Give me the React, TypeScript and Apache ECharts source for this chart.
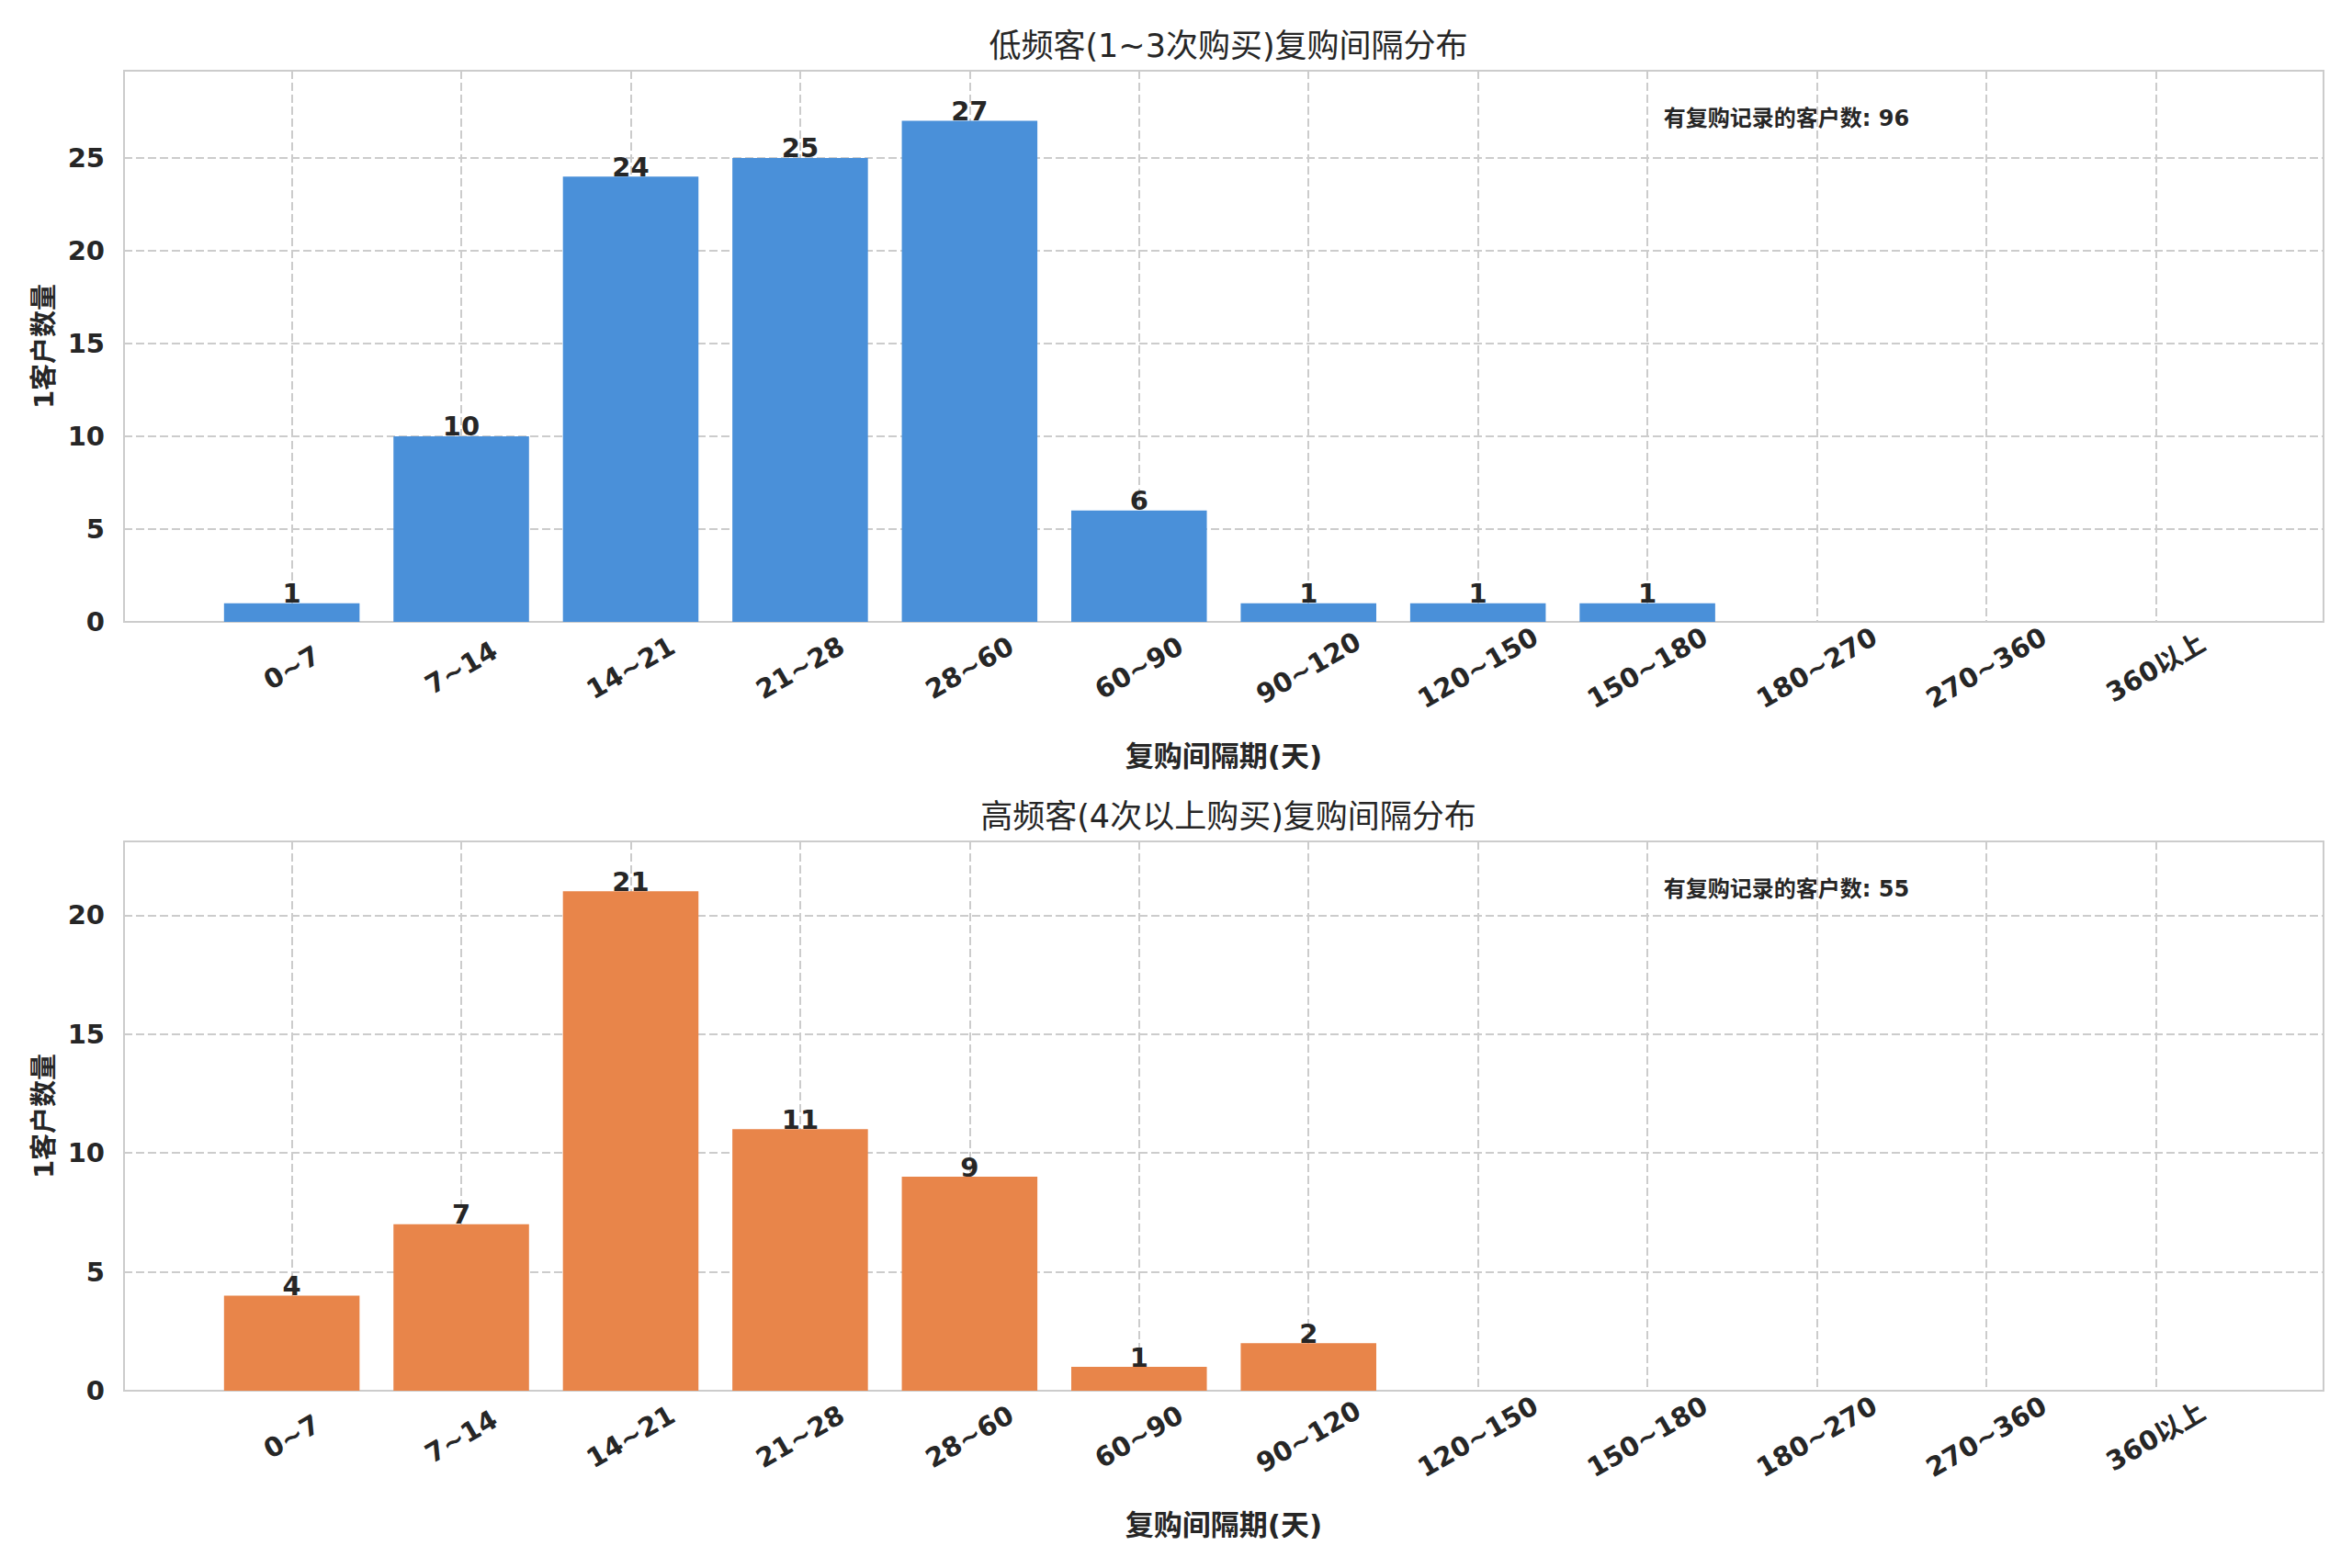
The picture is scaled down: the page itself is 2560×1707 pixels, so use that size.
import React, { useEffect, useRef } from "react";
import * as echarts from "echarts";

const categories = ["0~7", "7~14", "14~21", "21~28", "28~60", "60~90", "90~120", "120~150", "150~180", "180~270", "270~360", "360以上"];
const lowFreqCounts = [1, 10, 24, 25, 27, 6, 1, 1, 1, 0, 0, 0];
const highFreqCounts = [4, 7, 21, 11, 9, 1, 2, 0, 0, 0, 0, 0];
const panelTitles = ["低频客(1~3次购买)复购间隔分布", "高频客(4次以上购买)复购间隔分布"];
const xAxisTitle = "复购间隔期(天)";
const yAxisTitle = "1客户数量";
const totalLabel = "有复购记录的客户数";
const yMaxes = [29.7, 23.1];
const yInterval = 5;
const barColors = ["#4A90D9", "#E8854A"];

const FONT = "'DejaVu Sans', 'Noto Sans CJK SC', sans-serif";
const TEXT = "#262626";
const GRID = "#cccccc";

export default function App() {
  const ref = useRef<HTMLDivElement>(null);
  useEffect(() => {
    document.body.style.margin = "0";
    const chart = echarts.init(ref.current!, null, { renderer: "svg" });
    const frameLeft = 135;
    const frameWidth = 2394;
    const unit = frameWidth / 12.98;
    const barLeft = frameLeft + 0.99 * unit;
    const barWidthGrid = 11 * unit;
    const panels = [
      { top: 77, height: 600, data: lowFreqCounts },
      { top: 916, height: 598, data: highFreqCounts },
    ];
    const grids: any[] = [];
    const xAxes: any[] = [];
    const yAxes: any[] = [];
    const series: any[] = [];
    const titles: any[] = [];
    const graphics: any[] = [];
    panels.forEach((p, i) => {
      grids.push({
        left: frameLeft, top: p.top, width: frameWidth, height: p.height,
        show: true, borderColor: GRID, borderWidth: 2, backgroundColor: "transparent",
      });
      grids.push({ left: barLeft, top: p.top, width: barWidthGrid, height: p.height });
      xAxes.push({ gridIndex: 2 * i, type: "value", min: 0, max: 1, show: false });
      yAxes.push({
        gridIndex: 2 * i, type: "value", min: 0, max: yMaxes[i], interval: yInterval,
        axisLine: { show: false }, axisTick: { show: false },
        axisLabel: { fontSize: 29, fontWeight: "bold", color: TEXT, fontFamily: FONT, margin: 21, showMaxLabel: false },
        splitLine: { show: true, lineStyle: { color: GRID, width: 2, type: [9, 4] } },
        name: yAxisTitle, nameLocation: "middle", nameGap: 72,
        nameTextStyle: { fontSize: 29, fontWeight: "bold", color: TEXT, fontFamily: FONT },
      });
      xAxes.push({
        gridIndex: 2 * i + 1, type: "category", data: categories, boundaryGap: false,
        axisLine: { show: false }, axisTick: { show: false },
        axisLabel: {
          interval: 0, rotate: 30, align: "center", verticalAlign: "middle", margin: 50,
          fontSize: 29, fontWeight: "bold", color: TEXT, fontFamily: FONT,
        },
        splitLine: { show: true, interval: 0, lineStyle: { color: GRID, width: 2, type: [9, 4] } },
        name: xAxisTitle, nameLocation: "middle", nameGap: 130,
        nameTextStyle: { fontSize: 31, fontWeight: "bold", color: TEXT, fontFamily: FONT },
      });
      yAxes.push({ gridIndex: 2 * i + 1, type: "value", min: 0, max: yMaxes[i], show: false });
      series.push({
        type: "bar", xAxisIndex: 2 * i + 1, yAxisIndex: 2 * i + 1, data: p.data,
        barWidth: 0.8 * unit, clip: false,
        itemStyle: { color: barColors[i] },
        label: {
          show: true, position: "top", distance: -4,
          formatter: (d: any) => (d.value > 0 ? String(d.value) : ""),
          fontSize: 29, fontWeight: "bold", color: TEXT, fontFamily: FONT,
        },
      });
      titles.push({
        text: panelTitles[i], left: frameLeft + frameWidth / 2, textAlign: "center", top: p.top - 50,
        textStyle: { fontSize: 35, fontWeight: "normal", color: TEXT, fontFamily: FONT },
      });
      const total = p.data.reduce((a, b) => a + b, 0);
      graphics.push({
        type: "text", x: frameLeft + 0.7 * frameWidth, y: p.top + 52,
        style: { text: `${totalLabel}: ${total}`, fontSize: 24, fontWeight: "bold", fill: TEXT, fontFamily: FONT, align: "left", verticalAlign: "middle" },
      });
    });
    chart.setOption({
      animation: false,
      backgroundColor: "#ffffff",
      title: titles,
      grid: grids,
      xAxis: xAxes,
      yAxis: yAxes,
      series,
      graphic: graphics,
    });
    return () => chart.dispose();
  }, []);
  return <div ref={ref} style={{ position: "fixed", left: 0, top: 0, width: 2560, height: 1707, background: "#fff" }} />;
}
